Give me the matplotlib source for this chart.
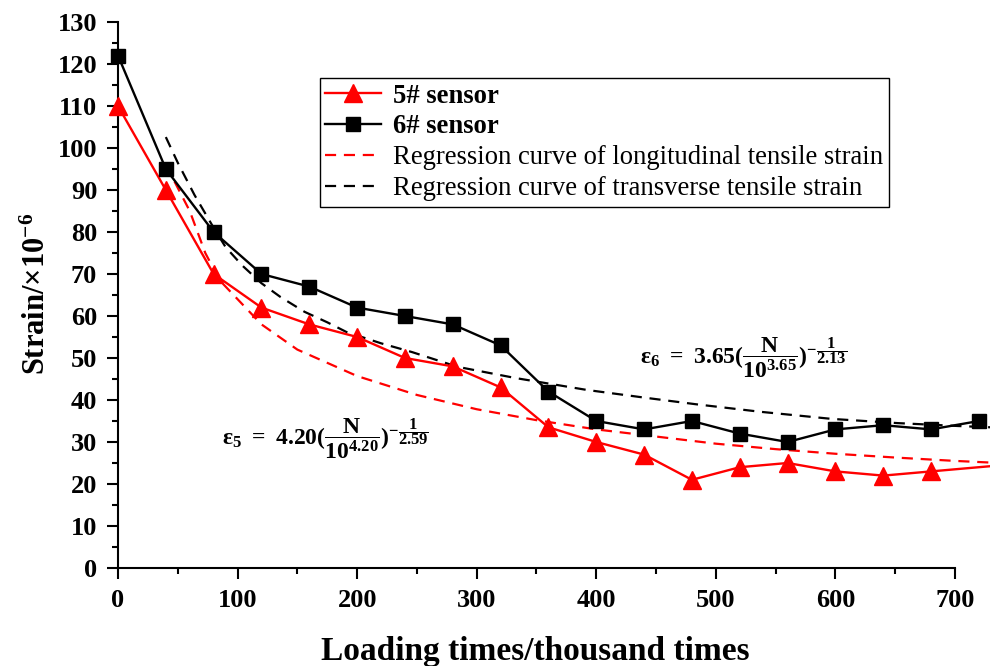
import numpy as np
import matplotlib
matplotlib.use("Agg")
import matplotlib.pyplot as plt
from matplotlib.ticker import FixedLocator

plt.rcParams['font.family'] = ['Liberation Serif', 'DejaVu Serif']
plt.rcParams['mathtext.fontset'] = 'custom'
plt.rcParams['mathtext.rm'] = 'Liberation Serif:bold'
plt.rcParams['mathtext.it'] = 'Liberation Serif:bold'
plt.rcParams['mathtext.bf'] = 'Liberation Serif:bold'

# measured data (loading times in thousand)
load_x = [0, 40, 80, 120, 160, 200, 240, 280, 320, 360, 400, 440, 480, 520, 560, 600, 640, 680, 720]
sensor5_x = [0, 40, 80, 120, 160, 200, 240, 280, 320, 360, 400, 440, 480, 520, 560, 600, 640, 680, 760]
sensor5 = [110, 90, 70, 62, 58, 55, 50, 48, 43, 33.5, 30, 27, 21, 24, 25, 23, 22, 23, 25]
sensor6 = [122, 95, 80, 70, 67, 62, 60, 58, 53, 42, 35, 33, 35, 32, 30, 33, 34, 33, 35]

# regression curves
reg5_x = [40, 50, 60, 73, 85, 100, 120, 150, 200, 250, 300, 350, 400, 450, 500, 550, 600, 650, 700, 730]
reg5 = [96, 90.5, 85, 75, 68.5, 64, 58, 52, 45.7, 41.2, 37.8, 35.2, 33, 31.3, 29.6, 28.3, 27.2, 26.3, 25.5, 25.1]
reg6_x = [40, 50, 64, 80, 90, 104, 120, 136, 156, 175, 191, 220, 246, 284, 333, 392, 442, 483, 537, 597, 652, 703, 730]
reg6 = [102.6, 96.5, 88.8, 81, 76.4, 72, 67.8, 64.5, 61, 58.5, 56.2, 53.5, 51.4, 47.9, 45.2, 42.4, 40.5, 39, 37.2, 35.5, 34.5, 33.8, 33.5]

x_ticks = [0, 100, 200, 300, 400, 500, 600, 700]
y_ticks = list(range(0, 131, 10))

fig = plt.figure(figsize=(9.9, 6.66), dpi=100)
ax = fig.add_axes([118 / 990, 98 / 666, 872 / 990, 546 / 666])

ax.plot(sensor5_x, sensor5, color='red', lw=1.7, marker='^', ms=13, label='5# sensor',
        zorder=4, clip_on=False)
ax.plot(load_x, sensor6, color='black', lw=1.7, marker='s', ms=10.5, label='6# sensor',
        zorder=4, clip_on=False)
ax.plot(reg5_x, reg5, color='red', lw=1.6, ls=(0, (5, 3.5)),
        label='Regression curve of longitudinal tensile strain', zorder=3)
ax.plot(reg6_x, reg6, color='black', lw=1.6, ls=(0, (5, 3.5)),
        label='Regression curve of transverse tensile strain', zorder=3)

ax.set_xlim(0, 872 / 1.1957)
ax.set_ylim(0, 130)
for s in ['top', 'right']:
    ax.spines[s].set_visible(False)
ax.spines['left'].set_bounds(0, 130)
ax.spines['bottom'].set_bounds(0, 700)
for s in ['left', 'bottom']:
    ax.spines[s].set_linewidth(1.5)

ax.set_xticks(x_ticks)
ax.set_yticks(y_ticks)
ax.xaxis.set_minor_locator(FixedLocator(np.arange(50, 700, 100)))
ax.yaxis.set_minor_locator(FixedLocator(np.arange(5, 130, 10)))
ax.tick_params(which='major', direction='out', length=8, width=1.5, labelsize=19)
ax.tick_params(axis='y', which='major', pad=7)
ax.tick_params(axis='x', which='major', pad=7)
ax.tick_params(which='minor', direction='out', length=4, width=1.5)
for lab in ax.get_xticklabels() + ax.get_yticklabels():
    lab.set_fontweight('bold')

ax.set_xlabel('Loading times/thousand times', fontsize=24, fontweight='bold')
ax.xaxis.set_label_coords(0.479, -0.124)
ax.set_ylabel(r'Strain/×10$^{-6}$', fontsize=22, fontweight='bold')
ax.yaxis.set_label_coords(-0.076, 0.502)

leg = ax.legend(loc='upper left', bbox_to_anchor=(0.2317, 0.897), fontsize=19.2, frameon=True,
                fancybox=False, edgecolor='black', framealpha=1, handlelength=2.1,
                borderpad=0.2, labelspacing=0.22, handletextpad=0.45, borderaxespad=0)
leg.get_frame().set_linewidth(1.0)
for t in leg.get_texts()[:2]:
    t.set_fontweight('bold')

ax.text(436.6, 49.8, r'$\varepsilon_6\ =\ 3.65(\dfrac{N}{10^{3.65}})^{-\dfrac{1}{2.13}}$',
        fontsize=17, va='center')
ax.text(87, 30.7, r'$\varepsilon_5\ =\ 4.20(\dfrac{N}{10^{4.20}})^{-\dfrac{1}{2.59}}$',
        fontsize=17, va='center')

fig.savefig('out.png', dpi=100)
